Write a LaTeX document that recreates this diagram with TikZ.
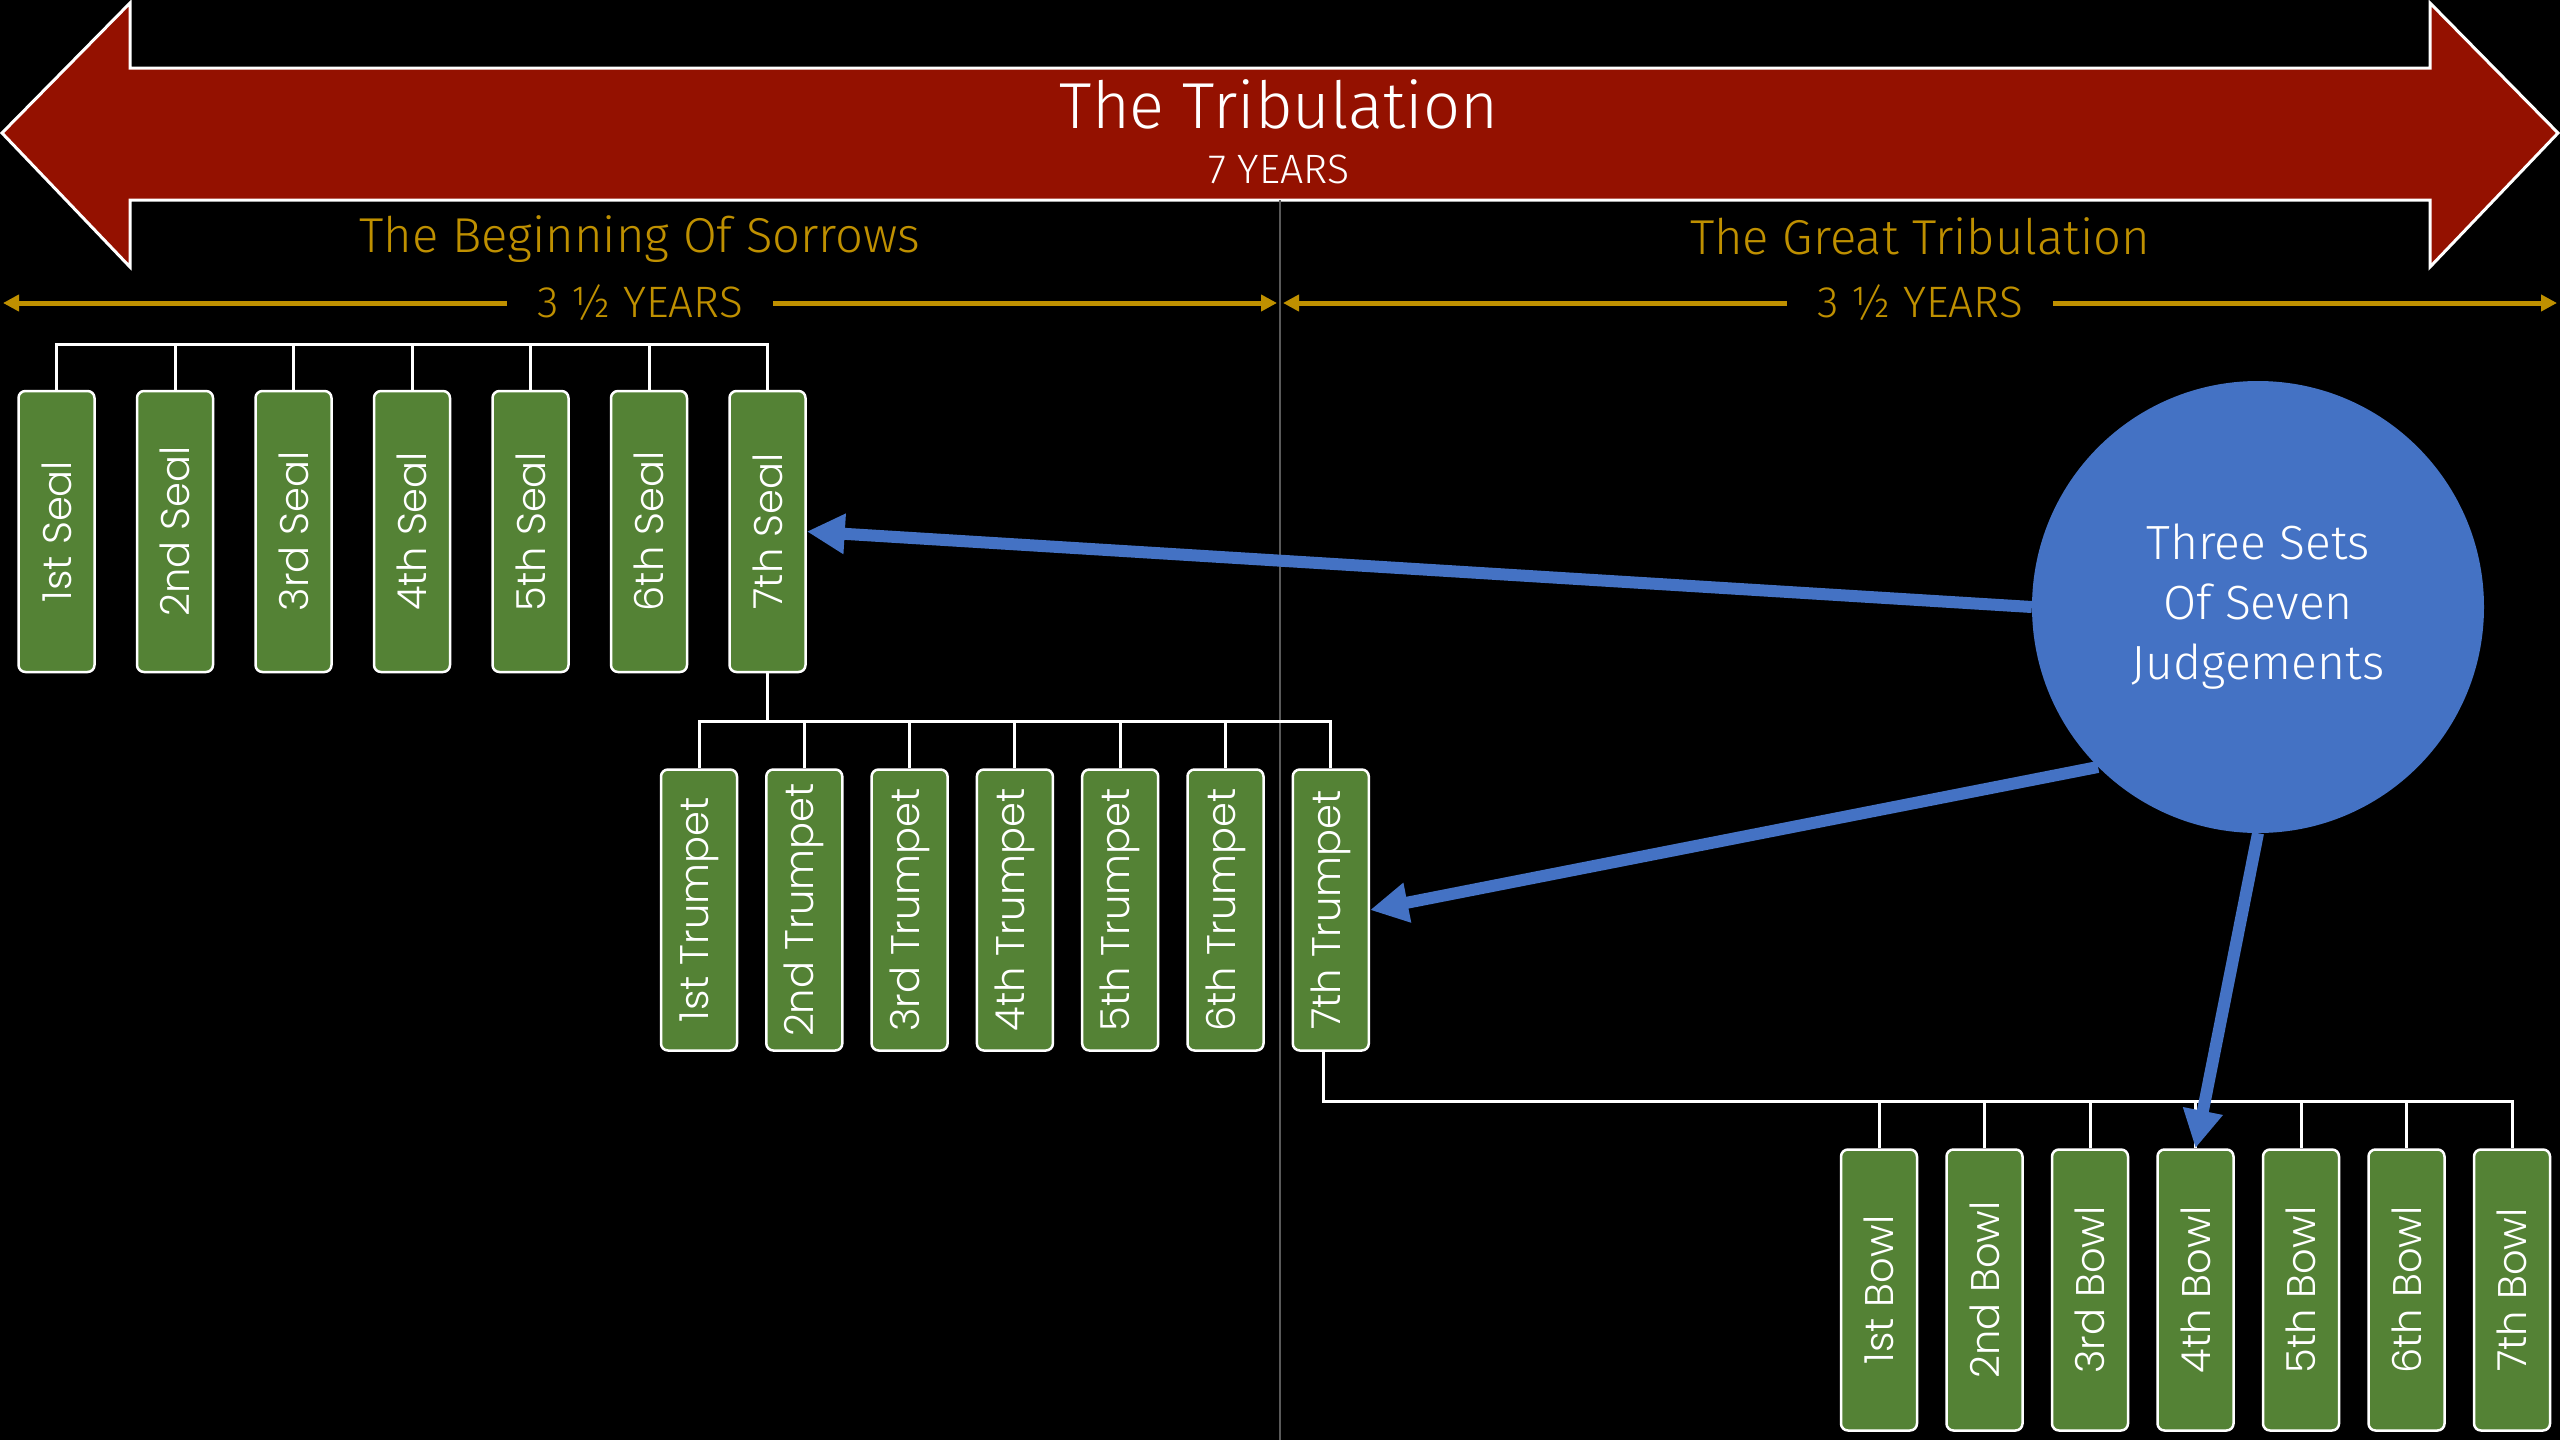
\documentclass[tikz,border=0pt]{standalone}
\usepackage{fontspec}
\setmainfont{Fira Sans Light}
\newfontfamily\boxfont{Poppins Light}
\usetikzlibrary{arrows.meta}
\definecolor{tribred}{RGB}{148,17,0}
\definecolor{tribgold}{RGB}{191,144,0}
\definecolor{judgegreen}{RGB}{84,130,53}
\definecolor{judgeblue}{RGB}{68,114,196}
\definecolor{midgray}{RGB}{89,89,89}
\tikzset{
  judgebox/.style={rectangle, rounded corners=7pt, fill=judgegreen, draw=white, line width=2.5pt,
    minimum width=76pt, minimum height=281pt, inner sep=0pt, text=white, font=\boxfont\fontsize{40}{48}\selectfont},
  bracket/.style={draw=white, line width=3pt},
  bluearrow/.style={draw=judgeblue, line width=12pt, -{Triangle[length=38pt,width=38pt]}},
  goldarrow/.style={draw=tribgold, line width=5pt, {Triangle[length=16pt,width=16pt]}-{Triangle[length=16pt,width=16pt]}},
  yearsbox/.style={fill=black, text=tribgold, inner xsep=30pt, inner ysep=2pt, font=\fontsize{44}{52}\selectfont},
  phasetitle/.style={text=tribgold, anchor=base, font=\fontsize{49}{58}\selectfont},
}
\begin{document}
\begin{tikzpicture}[x=1pt, y=-1pt]
  \fill[black] (0,0) rectangle (2560,1440);
  \useasboundingbox (0,0) rectangle (2560,1440);
  % the seven years
  \draw[fill=tribred, draw=white, line width=3pt] (2,133) -- (130,3) -- (130,68) -- (2430,68) -- (2430,3) -- (2558,133)
    -- (2430,267) -- (2430,200) -- (130,200) -- (130,267) -- cycle;
  \node[text=white, anchor=base, font=\fontsize{65}{78}\selectfont] (title) at (1279,128) {The Tribulation};
  \node[text=white, anchor=base, font=\fontsize{41}{48}\selectfont] (span) at (1279,183) {7 YEARS};
  \node[phasetitle] (sorrows) at (640,252) {The Beginning Of Sorrows};
  \node[phasetitle] (great) at (1920,254) {The Great Tribulation};
  % halves
  \coordinate (leftend) at (3,303);
  \coordinate (midleft) at (1277,303);
  \coordinate (midright) at (1283,303);
  \coordinate (rightend) at (2557,303);
  \draw[goldarrow] (leftend) -- node[yearsbox] (firsthalf) {3 ½ YEARS} (midleft);
  \draw[goldarrow] (midright) -- node[yearsbox] (secondhalf) {3 ½ YEARS} (rightend);
  \coordinate (midtop) at (1280,200);
  \coordinate (midbottom) at (1280,1440);
  \draw[midgray, line width=2pt] (midtop) -- (midbottom);
  % judgements
  \foreach \i/\ord in {1/1st,2/2nd,3/3rd,4/4th,5/5th,6/6th,7/7th} {
    \node[judgebox] (seal\i) at ({56.5+118.5*(\i-1)},531.5) {\rotatebox{90}{\ord\ Seal}};
    \node[judgebox] (trumpet\i) at ({699+105.3*(\i-1)},910) {\rotatebox{90}{\ord\ Trumpet}};
    \node[judgebox] (bowl\i) at ({1879+105.5*(\i-1)},1290) {\rotatebox{90}{\ord\ Bowl}};
  }
  \coordinate (sealbar) at (0,344);
  \coordinate (trumpetbar) at (0,721);
  \coordinate (bowlbar) at (0,1101);
  \draw[bracket] (seal1.north) |- (seal7.north |- sealbar) -- (seal7.north);
  \draw[bracket] (trumpet1.north) |- (trumpet7.north |- trumpetbar) -- (trumpet7.north);
  \draw[bracket] ([xshift=-7pt]trumpet7.south) |- (bowl7.north |- bowlbar) -- (bowl7.north);
  \draw[bracket] (seal7.south) -- (seal7.south |- trumpetbar);
  \foreach \i in {2,...,6} {
    \draw[bracket] (seal\i.north) -- (seal\i.north |- sealbar);
    \draw[bracket] (trumpet\i.north) -- (trumpet\i.north |- trumpetbar);
  }
  \foreach \i in {1,...,6}
    \draw[bracket] (bowl\i.north) -- (bowl\i.north |- bowlbar);
  \node[circle, fill=judgeblue, minimum size=452pt, inner sep=0pt, text=white, align=center,
    font=\fontsize{48}{60}\selectfont] (judge) at (2258,607) {Three Sets\\Of Seven\\Judgements};
  \draw[bluearrow] (judge.west) -- (seal7.east);
  \draw[bluearrow] (judge.225) -- (trumpet7.east);
  \draw[bluearrow] (judge.south) -- (bowl4.north);
\end{tikzpicture}
\end{document}
